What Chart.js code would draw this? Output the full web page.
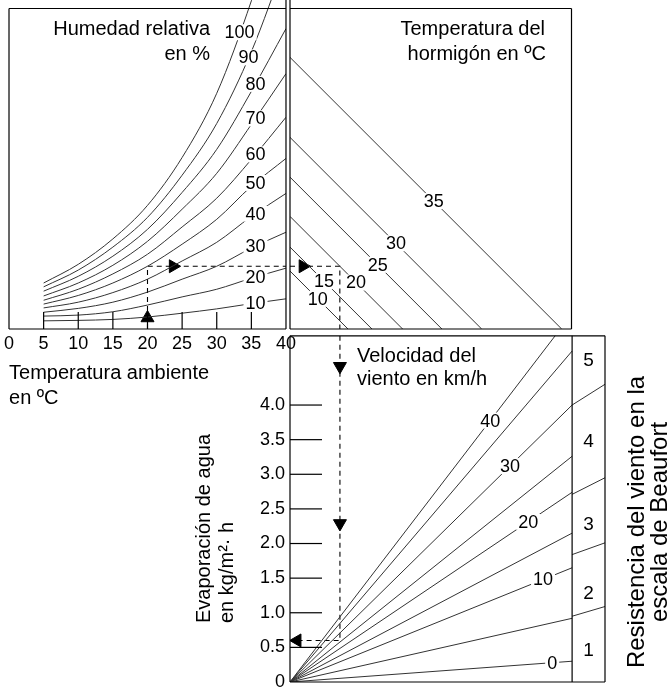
<!DOCTYPE html>
<html>
<head>
<meta charset="utf-8">
<script src="https://cdn.jsdelivr.net/npm/chart.js@4.4.1/dist/chart.umd.min.js"></script>
<style>
  html, body { margin: 0; padding: 0; background: #fff; overflow: hidden; }
  #wrap { position: relative; width: 672px; height: 690px; overflow: hidden; }
  canvas { position: absolute; }
</style>
</head>
<body>
<div id="wrap">
  <canvas id="humChart" width="300" height="415" style="left:0;top:0"></canvas>
  <canvas id="concChart" width="300" height="340" style="left:280px;top:0"></canvas>
  <canvas id="windChart" width="492" height="380" style="left:180px;top:320px"></canvas>
</div>
<script>
/* =========================
   DATA
========================= */

const tempTicks = [0, 5, 10, 15, 20, 25, 30, 35, 40];
const curveTemps = [5, 10, 15, 20, 25, 30, 35, 40];
const humidityLevels = [10, 20, 30, 40, 50, 60, 70, 80, 90, 100];

// vapour pressure (hPa), one value per curveTemps
const rh10  = [1.7, 1.8, 2.0, 2.5, 3.3, 4.2, 5.3, 6.3];
const rh20  = [2.7, 2.9, 3.6, 5.0, 6.7, 8.3, 10.6, 12.7];
const rh30  = [3.5, 4.3, 5.6, 7.7, 10.4, 13.1, 16.9, 20.2];
const rh40  = [4.4, 5.6, 7.6, 10.4, 14.2, 18.1, 23.5, 28.3];
const rh50  = [5.2, 7.0, 9.6, 13.1, 17.7, 22.9, 29.8, 35.6];
const rh60  = [6.0, 8.3, 11.5, 15.6, 21.3, 27.3, 35.4, 44.2];
const rh70  = [6.9, 9.6, 13.3, 18.3, 25.0, 32.5, 42.7, 53.3];
const rh80  = [7.9, 11.0, 15.2, 20.8, 28.5, 37.5, 49.6, 62.7];
const rh90  = [8.8, 12.3, 17.1, 23.3, 32.1, 42.9, 57.9, 77.1];
const rh100 = [9.6, 13.5, 18.8, 25.8, 35.8, 49.2, 68.5, 91.7];
const humidityCurves = [rh10, rh20, rh30, rh40, rh50, rh60, rh70, rh80, rh90, rh100];
const humidityLabelTemps = [35.6, 35.6, 35.6, 35.6, 35.6, 35.6, 35.6, 35.6, 34.6, 33.3];

// concrete temperature lines: vapour level (hPa) where each line leaves the left edge
const concreteTemps = [10, 15, 20, 25, 30, 35];
const concreteLevels = [12.1, 17.1, 23.5, 31.7, 40.0, 56.7];
const concreteLabelX = [5.8, 7.1, 13.8, 18.3, 22.1, 30.0];

// wind lines: evaporation reached at the right edge of the panel
const windSpeeds = [0, 5, 10, 15, 20, 25, 30, 35, 40];
const windEdgeEvap = [0.30, 0.92, 1.65, 2.15, 2.74, 3.26, 4.00, 4.78, 5.32];
const windLabelSpeeds = [0, 10, 20, 30, 40];
const windLabelX = [54.6, 52.7, 49.6, 45.8, 41.7];

const evapTicks = [0, 0.5, 1.0, 1.5, 2.0, 2.5, 3.0, 3.5, 4.0];

const beaufortNumbers = [1, 2, 3, 4, 5];
const beaufortLabelEvap = [0.45, 1.28, 2.27, 3.47, 4.64];
const beaufortLimitLeft = [0.95, 1.84, 2.71, 4.00];
const beaufortLimitRight = [1.09, 2.01, 2.95, 4.30];

// worked example drawn with dashed arrows
const exampleAirTemp = 20;
const exampleRH = 50;
const exampleConcreteTemp = 20;
const exampleEvap = 0.6;

// scale bounds
const vapourMax = 66.9;
const deficitMax = 58.75;
const beaufortMax = 65.6;
const evapMax = 5.0;

/* =========================
   HELPERS
========================= */

const FONT = '"Liberation Sans", Arial, sans-serif';
const INK = "#000";
const CURVE = "#333";

Chart.defaults.font.family = FONT;
Chart.defaults.color = INK;

function valueAt(xs, ys, x){
    for(let i = 1; i < xs.length; i++){
        if(x <= xs[i]){
            const f = (x - xs[i-1]) / (xs[i] - xs[i-1]);
            return ys[i-1] + f * (ys[i] - ys[i-1]);
        }
    }
    return ys[ys.length - 1];
}

function rule(ctx, x1, y1, x2, y2, w){
    ctx.save();
    ctx.strokeStyle = INK;
    ctx.lineWidth = w || 1.2;
    ctx.beginPath();
    ctx.moveTo(x1, y1);
    ctx.lineTo(x2, y2);
    ctx.stroke();
    ctx.restore();
}

function write(ctx, str, x, y, opts){
    opts = opts || {};
    ctx.save();
    ctx.font = (opts.size || 20) + "px " + FONT;
    ctx.fillStyle = INK;
    ctx.textAlign = opts.align || "left";
    ctx.textBaseline = opts.baseline || "alphabetic";
    ctx.translate(x, y);
    if(opts.rotate) ctx.rotate(opts.rotate);
    ctx.fillText(str, 0, 0);
    ctx.restore();
}

function tag(ctx, str, x, y){
    ctx.save();
    ctx.font = "18px " + FONT;
    const w = ctx.measureText(str).width;
    ctx.fillStyle = "#fff";
    ctx.fillRect(x - w / 2 - 2, y - 8, w + 4, 16);
    ctx.fillStyle = INK;
    ctx.textAlign = "center";
    ctx.textBaseline = "middle";
    ctx.fillText(str, x, y + 1);
    ctx.restore();
}

function curve(points, color){
    return {
        data: points,
        borderColor: color || CURVE,
        borderWidth: 1,
        pointRadius: 0,
        tension: 0
    };
}

function dashed(points){
    return {
        data: points,
        borderColor: INK,
        borderWidth: 1.1,
        borderDash: [5, 4],
        pointRadius: 0,
        tension: 0
    };
}

function arrow(x, y, rotation){
    return {
        data: [{x: x, y: y}],
        showLine: false,
        pointStyle: "triangle",
        pointRotation: rotation,
        pointRadius: 7.5,
        pointBackgroundColor: INK,
        pointBorderColor: INK,
        pointBorderWidth: 1
    };
}

const baseOptions = {
    responsive: false,
    animation: false,
    devicePixelRatio: 1,
    events: [],
    plugins: {
        legend: { display: false },
        tooltip: { enabled: false }
    }
};

/* =========================
   EXAMPLE VALUES
========================= */

const exampleVapour = humidityCurves[humidityLevels.indexOf(exampleRH)][curveTemps.indexOf(exampleAirTemp)];
const exampleDeficit = concreteLevels[concreteTemps.indexOf(exampleConcreteTemp)] - exampleVapour;

/* =========================
   HUMIDITY PANEL
========================= */

const humSets = humidityCurves.map(values => {
    const set = curve(curveTemps.map((t, i) => ({x: t, y: values[i]})));
    set.cubicInterpolationMode = "monotone";
    set.clip = {left: 0, top: false, right: 0, bottom: 0};
    return set;
});

humSets.push(dashed([
    {x: exampleAirTemp, y: 0},
    {x: exampleAirTemp, y: exampleVapour},
    {x: 40, y: exampleVapour}
]));
humSets.push(arrow(exampleAirTemp, 2.3, 0));
humSets.push(arrow(23.7, exampleVapour, 90));

const humFrame = {
    id: "humFrame",
    afterDatasetsDraw(chart){
        const {ctx, chartArea: a, scales: {x, y}} = chart;

        rule(ctx, a.left, a.top, a.right, a.top);
        rule(ctx, a.left, a.top, a.left, a.bottom);
        rule(ctx, a.left, a.bottom, a.right, a.bottom);
        rule(ctx, a.right, 0, a.right, a.bottom);

        tempTicks.slice(1, -1).forEach(t => {
            const px = x.getPixelForValue(t);
            rule(ctx, px, a.bottom, px, a.bottom - 17, 1.2);
        });

        humidityLevels.forEach((rh, i) => {
            const t = humidityLabelTemps[i];
            tag(ctx, String(rh), x.getPixelForValue(t),
                y.getPixelForValue(valueAt(curveTemps, humidityCurves[i], t)));
        });

        write(ctx, "Humedad relativa", 210, 35, {align: "right"});
        write(ctx, "en %", 210, 60, {align: "right"});
    }
};

new Chart(document.getElementById("humChart"), {
    type: "line",
    data: { datasets: humSets },
    options: {
        ...baseOptions,
        layout: { padding: {left: 8, top: 8, right: 10, bottom: 0} },
        scales: {
            x: {
                type: "linear",
                min: 0,
                max: 40,
                afterFit: s => { s.height = 86; },
                grid: { display: false, drawTicks: false },
                border: { display: false },
                ticks: {
                    stepSize: 5,
                    autoSkip: false,
                    maxRotation: 0,
                    padding: 4,
                    font: { size: 18 }
                },
                title: {
                    display: true,
                    text: ["Temperatura ambiente", "en ºC"],
                    align: "start",
                    font: { size: 20, lineHeight: 1.25 },
                    padding: { top: 0, bottom: 4 }
                }
            },
            y: {
                type: "linear",
                display: false,
                min: 0,
                max: vapourMax
            }
        }
    },
    plugins: [humFrame]
});

/* =========================
   CONCRETE PANEL
========================= */

const concSets = concreteLevels.map(c => curve([{x: 0, y: c}, {x: c, y: 0}]));

concSets.push(dashed([
    {x: 0, y: exampleVapour},
    {x: exampleDeficit, y: exampleVapour},
    {x: exampleDeficit, y: 0}
]));
concSets.push(arrow(2.7, exampleVapour, 90));

const concFrame = {
    id: "concFrame",
    afterDatasetsDraw(chart){
        const {ctx, chartArea: a, scales: {x, y}} = chart;

        rule(ctx, a.left, a.top, a.right, a.top);
        rule(ctx, a.right, a.top, a.right, a.bottom);
        rule(ctx, a.left, a.bottom, a.right, a.bottom);
        rule(ctx, a.left, 0, a.left, a.bottom);

        concreteTemps.forEach((t, i) => {
            const lx = concreteLabelX[i];
            tag(ctx, String(t), x.getPixelForValue(lx), y.getPixelForValue(concreteLevels[i] - lx));
        });

        write(ctx, "Temperatura del", 265, 35, {align: "right"});
        write(ctx, "hormigón en ºC", 266, 60, {align: "right"});
    }
};

new Chart(document.getElementById("concChart"), {
    type: "line",
    data: { datasets: concSets },
    options: {
        ...baseOptions,
        layout: { padding: {left: 10, top: 8, right: 8, bottom: 11} },
        scales: {
            x: { type: "linear", display: false, min: 0, max: deficitMax },
            y: { type: "linear", display: false, min: 0, max: vapourMax }
        }
    },
    plugins: [concFrame]
});

/* =========================
   WIND / EVAPORATION PANEL
========================= */

const windSets = windEdgeEvap.map(e => curve([{x: 0, y: 0}, {x: deficitMax, y: e}]));

beaufortLimitLeft.forEach((e, i) => {
    windSets.push(curve([{x: deficitMax, y: e}, {x: beaufortMax, y: beaufortLimitRight[i]}]));
});

windSets.push(dashed([
    {x: exampleDeficit, y: evapMax},
    {x: exampleDeficit, y: exampleEvap},
    {x: 0, y: exampleEvap}
]));
windSets.push(arrow(exampleDeficit, 4.56, 180));
windSets.push(arrow(exampleDeficit, 2.29, 180));
windSets.push(arrow(1.5, exampleEvap, 270));

const windFrame = {
    id: "windFrame",
    afterDatasetsDraw(chart){
        const {ctx, chartArea: a, scales: {x, y}} = chart;

        rule(ctx, a.left, a.top, a.right, a.top);
        rule(ctx, a.left, a.bottom, a.right, a.bottom);
        rule(ctx, a.left, a.top, a.left, a.bottom);
        rule(ctx, a.right, a.top, a.right, a.bottom);
        const sep = x.getPixelForValue(deficitMax);
        rule(ctx, sep, a.top, sep, a.bottom);

        evapTicks.slice(1).forEach(v => {
            const py = y.getPixelForValue(v);
            rule(ctx, a.left, py, a.left + 32, py, 1.2);
        });

        windLabelSpeeds.forEach((v, i) => {
            const lx = windLabelX[i];
            const e = windEdgeEvap[windSpeeds.indexOf(v)] * lx / deficitMax;
            tag(ctx, String(v), x.getPixelForValue(lx), y.getPixelForValue(e));
        });

        const mid = (sep + a.right) / 2;
        beaufortNumbers.forEach((b, i) => {
            write(ctx, String(b), mid, y.getPixelForValue(beaufortLabelEvap[i]),
                {size: 19, align: "center", baseline: "middle"});
        });

        write(ctx, "Velocidad del", 177, 42);
        write(ctx, "viento en km/h", 177, 65);

        write(ctx, "Evaporación de agua", 30, 303, {rotate: -Math.PI / 2});
        write(ctx, "en kg/m²· h", 53, 303, {rotate: -Math.PI / 2});

        write(ctx, "Resistencia del viento en la", 464, 202, {size: 24, rotate: -Math.PI / 2, align: "center"});
        write(ctx, "escala de Beaufort", 487, 202, {size: 24, rotate: -Math.PI / 2, align: "center"});
    }
};

new Chart(document.getElementById("windChart"), {
    type: "line",
    data: { datasets: windSets },
    options: {
        ...baseOptions,
        layout: { padding: {left: 0, top: 9, right: 67, bottom: 18} },
        scales: {
            x: { type: "linear", display: false, min: 0, max: beaufortMax },
            y: {
                type: "linear",
                position: "left",
                min: 0,
                max: evapMax,
                afterFit: s => { s.width = 110; },
                grid: { display: false, drawTicks: false },
                border: { display: false },
                ticks: {
                    stepSize: 0.5,
                    autoSkip: false,
                    padding: 5,
                    font: { size: 18 },
                    callback: v => v > 4 ? "" : (v === 0 ? "0" : v.toFixed(1))
                }
            }
        }
    },
    plugins: [windFrame]
});
</script>
</body>
</html>
